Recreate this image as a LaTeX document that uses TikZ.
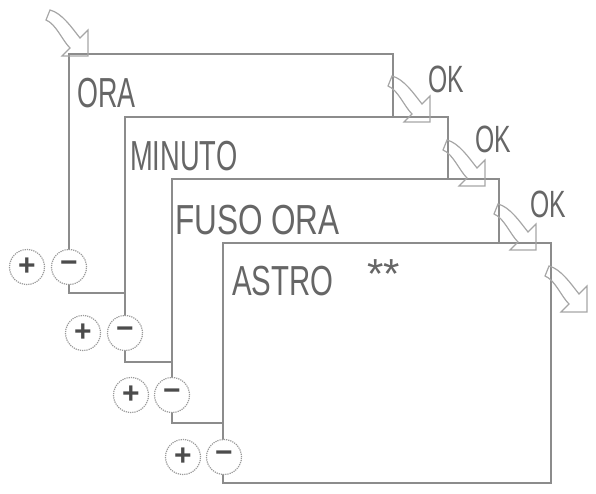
\documentclass[tikz,border=0pt]{standalone}
\usepackage{fontspec}
\setmainfont{Liberation Sans}
\tikzset{
  screen/.style={draw=black!45, line width=1.6pt, fill=white},
  key/.style={circle, draw=black!40, densely dotted, line width=1.2pt, fill=white,
    minimum size=35pt, inner sep=0pt, text=black!70, font=\bfseries\fontsize{30}{30}\selectfont},
  lcd/.style={anchor=base west, inner sep=0pt, text=black!60, font=\fontsize{42}{42}\selectfont},
  arrowline/.style={draw=black!35, line width=1.2pt},
  flip/.pic={
    \draw[arrowline] (2,-6) .. controls (14,-3) and (24,12) .. (32,22)
      -- (40,14) -- (40,40) -- (14,40) -- (22,32)
      .. controls (14,24) and (8,8) .. (-2,4) -- cycle;
  }
}
\begin{document}
\begin{tikzpicture}[x=1pt, y=-1pt]
  \useasboundingbox (0,0) rectangle (596,493);

  % Screens, back to front, each with its +/- keys
  \draw[screen] (69,54) rectangle (393,293);
  \node[key] (minus1) at (69,267) {\char"2212};
  \node[key] (plus1) at (27,267) {+};

  \draw[screen] (125,117) rectangle (448,362);
  \node[key] (minus2) at (125,333) {\char"2212};
  \node[key] (plus2) at (83,333) {+};

  \draw[screen] (172,179) rectangle (499,423);
  \node[key] (minus3) at (172,395) {\char"2212};
  \node[key] (plus3) at (131,395) {+};

  \draw[screen] (223,243) rectangle (551,483);
  \node[key] (minus4) at (224,457) {\char"2212};
  \node[key] (plus4) at (183,457) {+};

  % Labels
  \node[lcd, xscale=0.64] (ora) at (77,107) {ORA};
  \node[lcd, xscale=0.65] (minuto) at (130,170) {MINUTO};
  \node[lcd, xscale=0.75] (fuso) at (175,234) {FUSO ORA};
  \node[lcd, xscale=0.70] (astro) at (232,295) {ASTRO};
  \node[lcd] (stars) at (367,288) {**};

  \node[lcd, xscale=0.65, font=\fontsize{38}{38}\selectfont] (ok1) at (428,92) {OK};
  \node[lcd, xscale=0.65, font=\fontsize{38}{38}\selectfont] (ok2) at (475,152) {OK};
  \node[lcd, xscale=0.65, font=\fontsize{38}{38}\selectfont] (ok3) at (530,217) {OK};

  % Arrows
  \pic at (48,16) {flip};
  \pic at (390,82) {flip};
  \pic at (445,146) {flip};
  \pic at (496,210) {flip};
  \pic at (547,272) {flip};
\end{tikzpicture}
\end{document}
